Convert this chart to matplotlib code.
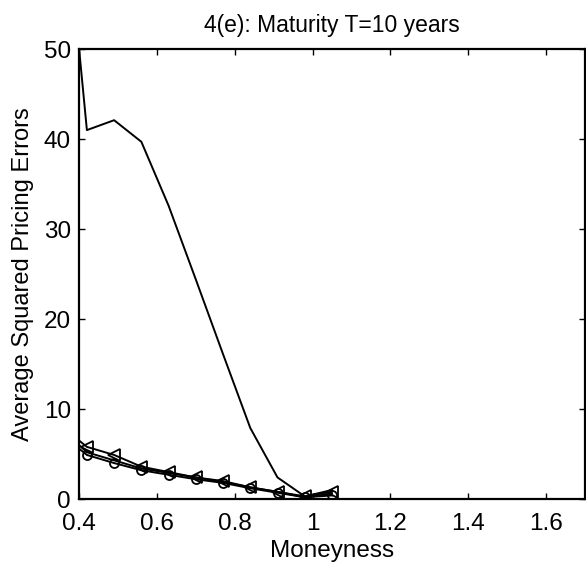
import numpy as np
import matplotlib.pyplot as plt

plt.rcParams['font.family'] = ['Liberation Sans', 'DejaVu Sans']

# moneyness grid and average squared pricing errors for the four models
moneyness = [0.40, 0.42, 0.49, 0.56, 0.63, 0.70, 0.77, 0.84, 0.91, 0.98, 1.05]
err_main = [50.0, 41.0, 42.1, 39.7, 32.6, 24.4, 16.1, 7.9, 2.4, 0.3, 1.0]
err_tri = [6.5, 5.8, 4.9, 3.6, 3.0, 2.4, 2.0, 1.3, 0.8, 0.3, 0.8]
err_plain = [6.0, 5.2, 4.3, 3.4, 2.9, 2.4, 1.9, 1.3, 0.8, 0.2, 0.6]
err_circ = [5.6, 4.9, 4.0, 3.2, 2.7, 2.2, 1.8, 1.2, 0.7, 0.2, 0.4]

fig = plt.figure(figsize=(5.86, 5.71), dpi=100)
ax = fig.add_axes([0.135, 0.126, 0.863, 0.788])

ax.plot(moneyness, err_main, color='black', lw=1.4)
ax.plot(moneyness, err_tri, color='black', lw=1.4, marker='<', ms=9,
        mfc='none', mew=1.3, markevery=list(range(1, len(moneyness))))
ax.plot(moneyness, err_plain, color='black', lw=1.4)
ax.plot(moneyness, err_circ, color='black', lw=1.4, marker='o', ms=6.5,
        mfc='none', mew=1.3, markevery=list(range(1, len(moneyness))))

ax.set_xlim(0.4, 1.7)
ax.set_ylim(0, 50)
ax.set_xticks(np.arange(0.4, 1.61, 0.2))
ax.set_xticklabels(['0.4', '0.6', '0.8', '1', '1.2', '1.4', '1.6'])
ax.set_yticks(np.arange(0, 51, 10))
ax.tick_params(direction='in', top=True, right=True, labelsize=17.5, length=4, width=1)
ax.tick_params(axis='x', pad=10)
ax.tick_params(axis='y', pad=6)
for s in ax.spines.values():
    s.set_linewidth(1.6)

ax.set_xlabel('Moneyness', fontsize=17.5, labelpad=4)
ax.set_ylabel('Average Squared Pricing Errors', fontsize=17, labelpad=7)
ax.set_title('4(e): Maturity T=10 years', fontsize=16.5, pad=12)

fig.savefig('out.png', dpi=100)
